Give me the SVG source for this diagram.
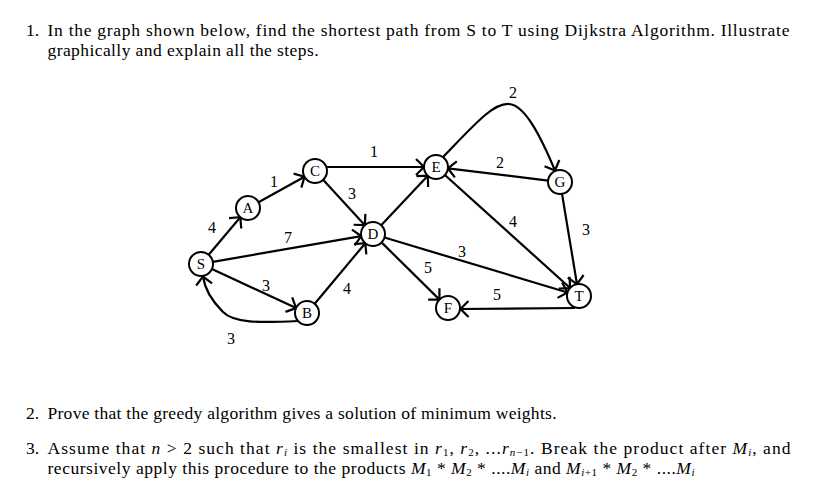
<svg xmlns="http://www.w3.org/2000/svg" width="838" height="486" viewBox="0 0 838 486">
<style>
  .t { font-family: "Liberation Serif", "Times New Roman", serif; font-size: 17.5px; fill: #000; }
  .m { font-style: italic; }
  .s { font-size: 11px; }
  .node circle { fill: #fff; stroke: #000; stroke-width: 2; }
  .node text { font-family: "Liberation Serif", "Times New Roman", serif; font-size: 15px; fill: #000; text-anchor: middle; }
  .edges path { fill: none; stroke: #000; stroke-width: 2.2; marker-end: url(#arr); }
  .lbl { font-family: "Liberation Serif", "Times New Roman", serif; font-size: 16px; fill: #000; text-anchor: middle; }
</style>
<defs>
  <marker id="arr" markerUnits="userSpaceOnUse" orient="auto" refX="0" refY="0" markerWidth="20" markerHeight="20" viewBox="-10 -10 20 20" overflow="visible">
    <path d="M-8,-8 L0,0 L-8,8" fill="none" stroke="#000" stroke-width="2.2" stroke-linejoin="miter"/>
  </marker>
</defs>
<rect width="838" height="486" fill="#fff"/>

<!-- question text -->
<text class="t" x="26" y="36">1.</text>
<text class="t" x="47.5" y="36" textLength="742" lengthAdjust="spacing">In the graph shown below, find the shortest path from S to T using Dijkstra Algorithm.  Illustrate</text>
<text class="t" x="47.5" y="56" textLength="271" lengthAdjust="spacing">graphically and explain all the steps.</text>

<text class="t" x="26" y="418.5">2.</text>
<text class="t" x="47.5" y="418.5" textLength="509" lengthAdjust="spacing">Prove that the greedy algorithm gives a solution of minimum weights.</text>

<text class="t" x="26" y="453.5">3.</text>
<text class="t" x="47.5" y="453.5" textLength="743" lengthAdjust="spacing">Assume that <tspan class="m">n</tspan> &gt; 2 such that <tspan class="m">r</tspan><tspan class="s m" dy="2.5">i</tspan><tspan dy="-2.5"> is the smallest in </tspan><tspan class="m">r</tspan><tspan class="s" dy="2.5">1</tspan><tspan dy="-2.5">, </tspan><tspan class="m">r</tspan><tspan class="s" dy="2.5">2</tspan><tspan dy="-2.5">, ...</tspan><tspan class="m">r</tspan><tspan class="s" dy="2.5"><tspan class="m">n</tspan>−1</tspan><tspan dy="-2.5">.  Break the product after </tspan><tspan class="m">M</tspan><tspan class="s m" dy="2.5">i</tspan><tspan dy="-2.5">, and</tspan></text>
<text class="t" x="47.5" y="473.5" textLength="647" lengthAdjust="spacing">recursively apply this procedure to the products <tspan class="m">M</tspan><tspan class="s" dy="2.5">1</tspan><tspan dy="-2.5"> * </tspan><tspan class="m">M</tspan><tspan class="s" dy="2.5">2</tspan><tspan dy="-2.5"> * ....</tspan><tspan class="m">M</tspan><tspan class="s m" dy="2.5">i</tspan><tspan dy="-2.5"> and </tspan><tspan class="m">M</tspan><tspan class="s" dy="2.5"><tspan class="m">i</tspan>+1</tspan><tspan dy="-2.5"> * </tspan><tspan class="m">M</tspan><tspan class="s" dy="2.5">2</tspan><tspan dy="-2.5"> * ....</tspan><tspan class="m">M</tspan><tspan class="s m" dy="2.5">i</tspan></text>

<!-- connectors -->
<g id="edges" class="edges">
  <path id="e-SA" d="M208.7,254.8 L240.3,217.2"/>
  <path id="e-AC" d="M258.5,202.2 L304.5,176.8"/>
  <path id="e-CD" d="M323.1,179.8 L364.9,225.2"/>
  <path id="e-SD" d="M212.8,261.9 L361.2,236.1"/>
  <path id="e-SB" d="M211.9,269.0 L296.1,308.0"/>
  <path id="e-BD" d="M314.7,303.8 L365.3,243.2"/>
  <path id="e-BS" d="M298,321 C258,323 234,323 223,312 C213,302 205,291 203,276.5"/>
  <path id="e-CE" d="M326.5,167 L424,167"/>
  <path id="e-DE" d="M381.2,225.3 L427.8,175.7"/>
  <path id="e-GE" d="M548.1,180.6 L447.9,168.4"/>
  <path id="e-EG" d="M443,157 C475,124 493,103 509,104 C525,105 541,137 555,170.5"/>
  <path id="e-ET" d="M444.9,175.0 L570.1,288.0"/>
  <path id="e-GT" d="M562,193.8 L577,284.2"/>
  <path id="e-DT" d="M384.5,237.5 L567.5,292.5"/>
  <path id="e-DF" d="M381.5,242.4 L439.5,299.6"/>
  <path id="e-TF" d="M575,308 L460.5,309"/>
</g>

<!-- edge labels -->
<g id="labels">
  <text class="lbl" x="212" y="233">4</text>
  <text class="lbl" x="274" y="187">1</text>
  <text class="lbl" x="352" y="199">3</text>
  <text class="lbl" x="288" y="243">7</text>
  <text class="lbl" x="266" y="291">3</text>
  <text class="lbl" x="347" y="294">4</text>
  <text class="lbl" x="231" y="344">3</text>
  <text class="lbl" x="374" y="157">1</text>
  <text class="lbl" x="500" y="168">2</text>
  <text class="lbl" x="513" y="98">2</text>
  <text class="lbl" x="513" y="227">4</text>
  <text class="lbl" x="586" y="235">3</text>
  <text class="lbl" x="462" y="257">3</text>
  <text class="lbl" x="428" y="273">5</text>
  <text class="lbl" x="497" y="300">5</text>
</g>

<!-- nodes -->
<g id="node-S" class="node"><circle cx="201" cy="264" r="12"/><text x="201" y="269">S</text></g>
<g id="node-A" class="node"><circle cx="248" cy="208" r="12"/><text x="248" y="213">A</text></g>
<g id="node-C" class="node"><circle cx="315" cy="171" r="12"/><text x="315" y="176">C</text></g>
<g id="node-D" class="node"><circle cx="373" cy="234" r="12"/><text x="373" y="239">D</text></g>
<g id="node-B" class="node"><circle cx="307" cy="313" r="12"/><text x="307" y="318">B</text></g>
<g id="node-E" class="node"><circle cx="436" cy="167" r="12"/><text x="436" y="172">E</text></g>
<g id="node-G" class="node"><circle cx="560" cy="182" r="12"/><text x="560" y="187">G</text></g>
<g id="node-F" class="node"><circle cx="448" cy="308" r="12"/><text x="448" y="313">F</text></g>
<g id="node-T" class="node"><circle cx="579" cy="296" r="12"/><text x="579" y="301">T</text></g>
</svg>
